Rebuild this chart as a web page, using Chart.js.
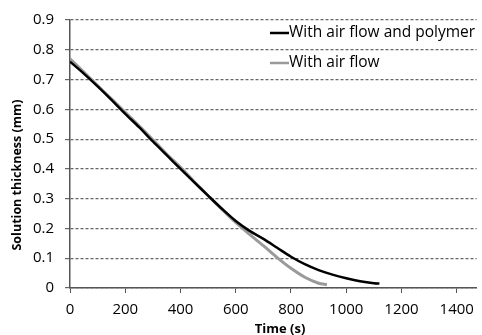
<!DOCTYPE html>
<html>
<head>
<meta charset="utf-8">
<script src="https://cdn.jsdelivr.net/npm/chart.js@4"></script>
<style>
  html, body { margin: 0; padding: 0; background: #fff; }
  #wrap { width: 482px; height: 335px; }
</style>
</head>
<body>
<div id="wrap"><canvas id="grafica" width="482" height="335"></canvas></div>
<script>
// datos
const tiempoPolimero = [0, 50, 100, 150, 200, 250, 300, 350, 400, 450, 500, 550, 600, 650, 700, 750, 800, 850, 900, 950, 1000, 1050, 1100, 1120]
const espesorPolimero = [0.76, 0.72, 0.677, 0.632, 0.585, 0.54, 0.492, 0.446, 0.40, 0.355, 0.31, 0.266, 0.225, 0.192, 0.165, 0.135, 0.105, 0.08, 0.06, 0.045, 0.033, 0.023, 0.016, 0.015]
const tiempoAire = [0, 50, 100, 150, 200, 250, 300, 350, 400, 450, 500, 550, 600, 650, 700, 750, 800, 850, 900, 930]
const espesorAire = [0.77, 0.725, 0.68, 0.635, 0.59, 0.545, 0.498, 0.45, 0.405, 0.357, 0.31, 0.264, 0.22, 0.18, 0.142, 0.102, 0.066, 0.036, 0.016, 0.011]
const etiquetas = ['With air flow and polymer', 'With air flow']
const ticksX = [0, 200, 400, 600, 800, 1000, 1200, 1400]

const fuente = '"Open Sans", sans-serif'
const pares = (xs, ys) => xs.map((x, i) => ({ x: x, y: ys[i] }))

// leyenda y titulos de ejes dibujados a mano
const extras = {
    id: 'extras',
    afterDraw(chart) {
        const ctx = chart.ctx
        ctx.save()
        const colores = ['#000000', '#9a9a9a']
        etiquetas.forEach((txt, i) => {
            const y = 33 + i * 30
            ctx.strokeStyle = colores[i]
            ctx.lineWidth = 2.5
            ctx.beginPath()
            ctx.moveTo(270, y)
            ctx.lineTo(289, y)
            ctx.stroke()
            ctx.fillStyle = '#000'
            ctx.font = '15.5px ' + fuente
            ctx.textBaseline = 'middle'
            ctx.textAlign = 'left'
            ctx.fillText(txt, 289, y)
        })
        ctx.textAlign = 'center'
        ctx.textBaseline = 'middle'
        ctx.font = 'bold 13px ' + fuente
        ctx.fillText('Time (s)', 280, 329)
        ctx.font = 'bold 12.5px ' + fuente
        ctx.translate(17, 175)
        ctx.rotate(-Math.PI / 2)
        ctx.fillText('Solution thickness (mm)', 0, 0)
        ctx.restore()
    }
}

const config = {
    type: 'scatter',
    data: {
        datasets: [
            {
                label: etiquetas[0],
                data: pares(tiempoPolimero, espesorPolimero),
                showLine: true,
                borderColor: '#000000',
                borderWidth: 2.5,
                pointRadius: 0,
                tension: 0.3,
                order: 1
            },
            {
                label: etiquetas[1],
                data: pares(tiempoAire, espesorAire),
                showLine: true,
                borderColor: '#9a9a9a',
                borderWidth: 3,
                pointRadius: 0,
                tension: 0.3,
                order: 2
            }
        ]
    },
    options: {
        responsive: false,
        animation: false,
        layout: { padding: { top: 16, right: 2, left: 0, bottom: 0 } },
        plugins: { legend: { display: false }, tooltip: { enabled: false } },
        scales: {
            x: {
                type: 'linear',
                min: 0,
                max: 1472,
                afterBuildTicks: (eje) => { eje.ticks = ticksX.map(v => ({ value: v })) },
                afterFit: (eje) => { eje.height = 47 },
                border: { color: '#555', width: 1.5 },
                grid: { drawOnChartArea: false, tickLength: 5, color: '#555' },
                ticks: { color: '#000', font: { family: fuente, size: 15 }, padding: 8, maxRotation: 0,
                         callback: (v) => String(v) }
            },
            y: {
                min: 0,
                max: 0.9,
                afterFit: (eje) => { eje.width = 70 },
                border: { color: '#555', width: 1.5, dash: [3, 2] },
                grid: { color: '#666666', lineWidth: 1.2, tickLength: 5, tickBorderDash: [] },
                ticks: { stepSize: 0.1, color: '#000', font: { family: fuente, size: 15 }, padding: 11,
                         callback: (v) => v === 0 ? '0' : v.toFixed(1) }
            }
        }
    },
    plugins: [extras]
}

new Chart(document.querySelector('#grafica'), config)
</script>
</body>
</html>
